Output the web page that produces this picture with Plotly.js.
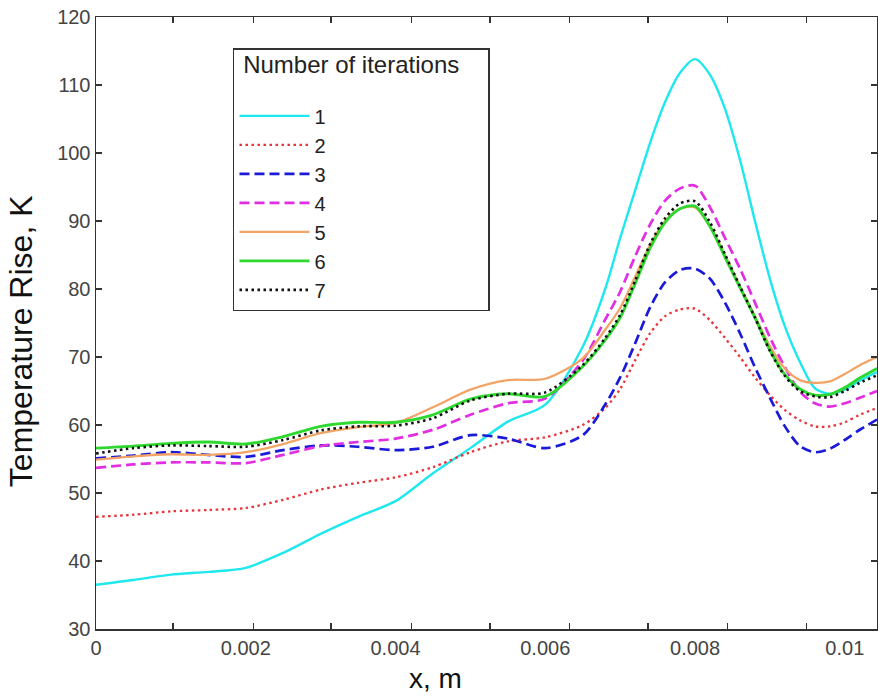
<!DOCTYPE html>
<html>
<head>
<meta charset="utf-8">
<script src="https://cdn.plot.ly/plotly-3.0.1.min.js"></script>
<style>html,body{margin:0;padding:0;background:#fff;}#chart{width:878px;height:696px;}</style>
</head>
<body>
<div id="chart"></div>
<script>
// x positions (m)
const xPos = [0, 0.0005, 0.001, 0.0015, 0.002, 0.0025, 0.003, 0.0035, 0.004, 0.0045, 0.005, 0.0055, 0.006,
  0.0065, 0.0068, 0.007, 0.0072, 0.0074, 0.0076, 0.0078, 0.008, 0.0082, 0.0084, 0.0086, 0.0088, 0.009,
  0.0092, 0.0094, 0.0096, 0.0098, 0.01, 0.0102, 0.01043];

// Temperature rise (K) per number of iterations
const iter1 = [36.5, 37.2, 38.0, 38.4, 39.0, 41.2, 44.0, 46.5, 48.8, 52.9, 56.6, 60.5, 63.0,
  71.5, 80.0, 87.5, 94.5, 101.5, 107.5, 111.8, 113.8, 111.5, 106.5, 99.0, 90.0, 81.5,
  74.5, 69.3, 65.4, 64.6, 65.2, 66.5, 67.8];
const iter2 = [46.5, 46.8, 47.3, 47.5, 47.8, 49.0, 50.5, 51.5, 52.3, 53.8, 56.0, 57.6, 58.2,
  60.0, 62.5, 65.3, 69.5, 73.5, 76.0, 77.0, 77.1, 75.4, 72.8, 70.0, 67.0, 64.4,
  62.2, 60.7, 59.8, 59.8, 60.4, 61.5, 62.5];
const iter3 = [55.1, 55.5, 56.0, 55.6, 55.3, 56.3, 57.0, 56.8, 56.3, 56.8, 58.5, 58.0, 56.6,
  58.5, 63.0, 67.0, 72.0, 77.3, 81.0, 82.8, 83.0, 81.5, 78.0, 73.5, 68.5, 64.0,
  59.8, 56.9, 56.0, 56.5, 57.8, 59.3, 60.8];
const iter4 = [53.7, 54.2, 54.5, 54.5, 54.4, 55.6, 56.9, 57.5, 58.0, 59.3, 61.5, 63.2, 63.9,
  69.5, 75.5, 79.6, 84.8, 89.5, 93.0, 94.8, 95.2, 92.0, 87.5, 83.0, 78.0, 72.9,
  68.5, 64.9, 63.2, 62.7, 63.2, 64.0, 65.0];
const iter5 = [54.9, 55.4, 55.7, 55.6, 56.0, 57.2, 58.8, 59.7, 60.3, 62.6, 65.2, 66.6, 66.8,
  69.8, 74.0, 77.2, 81.8, 86.5, 90.0, 91.8, 92.0, 89.2, 85.0, 80.4, 76.0, 71.6,
  68.3, 66.6, 66.2, 66.4, 67.5, 68.8, 70.0];
const iter6 = [56.6, 56.9, 57.3, 57.5, 57.2, 58.3, 59.8, 60.4, 60.4, 61.5, 63.8, 64.6, 64.2,
  68.6, 72.5, 75.8, 80.8, 86.0, 89.8, 91.8, 92.2, 89.2, 84.7, 80.2, 75.8, 71.0,
  67.4, 65.3, 64.4, 64.5, 65.5, 66.9, 68.3];
const iter7 = [55.8, 56.6, 57.0, 56.9, 56.8, 57.8, 59.2, 59.8, 59.9, 61.0, 63.6, 64.6, 64.8,
  68.8, 72.8, 76.2, 81.2, 86.6, 90.4, 92.6, 92.9, 89.8, 85.1, 80.4, 75.8, 70.9,
  67.2, 65.0, 64.2, 64.1, 65.0, 66.2, 67.3];

const seriesNames = ['1', '2', '3', '4', '5', '6', '7'];
const seriesValues = [iter1, iter2, iter3, iter4, iter5, iter6, iter7];

// axis ticks
const xTickVals = [0, 0.002, 0.004, 0.006, 0.008, 0.01];
const xTickText = ['0', '0.002', '0.004', '0.006', '0.008', '0.01'];
const xTickMarks = [0.00103, 0.0021, 0.00314, 0.00421, 0.00526, 0.00632, 0.00737, 0.00843, 0.00949];
const yTickVals = [30, 40, 50, 60, 70, 80, 90, 100, 110, 120];

const styles = [
  {color: '#1ee8ee', width: 2.4, dash: 'solid'},
  {color: '#e8343a', width: 2.3, dash: '2.5px,3.5px'},
  {color: '#1a1ad8', width: 2.7, dash: '10px,5px'},
  {color: '#e22ee2', width: 2.7, dash: '10px,5px'},
  {color: '#f2a466', width: 2.3, dash: 'solid'},
  {color: '#2ed82e', width: 2.9, dash: 'solid'},
  {color: '#111111', width: 2.6, dash: '2.5px,3.5px'}
];

const traces = seriesValues.map((vals, i) => ({
  x: xPos, y: vals, name: seriesNames[i], type: 'scatter', mode: 'lines',
  line: {color: styles[i].color, width: styles[i].width, dash: styles[i].dash, shape: 'spline', smoothing: 0.8}
}));

const FONT = 'Liberation Sans, Arial, sans-serif';
const axisCommon = {
  showline: true, linecolor: '#333', linewidth: 1.5, mirror: 'ticks',
  showgrid: false, zeroline: false, ticks: 'inside', ticklen: 6, tickwidth: 1.3, tickcolor: '#333',
  tickfont: {family: FONT, size: 20, color: '#444'}
};

const NB = '\u00a0';
const legendTitle = '<span style="font-size:24px">' + NB + 'Number of iterations' + NB.repeat(4) + '</span><br>' + NB;

const layout = {
  width: 878, height: 696,
  margin: {l: 96, r: 1, t: 17, b: 67, pad: 0},
  paper_bgcolor: '#fff', plot_bgcolor: '#fff',
  font: {family: FONT},
  showlegend: true,
  xaxis: Object.assign({}, axisCommon, {
    range: [0, 0.01043], tickmode: 'array', tickvals: xTickVals, ticktext: xTickText,
    ticks: '',
    minor: {tickmode: 'array', tickvals: xTickMarks, ticks: 'inside', ticklen: 6, tickwidth: 1.3, tickcolor: '#333', showgrid: false}
  }),
  yaxis: Object.assign({}, axisCommon, {
    range: [30, 120], tickmode: 'array', tickvals: yTickVals
  }),
  legend: {
    x: 0.1754, y: 0.9493, xanchor: 'left', yanchor: 'top',
    bgcolor: '#fff', bordercolor: '#333', borderwidth: 1.5,
    font: {family: FONT, size: 20, color: '#222'},
    title: {text: legendTitle, font: {family: FONT, size: 18, color: '#222'}},
    itemwidth: 70
  },
  annotations: [
    {text: 'x, m', xref: 'paper', yref: 'paper', x: 0.435, y: -0.081, xanchor: 'center', yanchor: 'middle',
     showarrow: false, font: {family: FONT, size: 28, color: '#111'}},
    {text: 'Temperature Rise, K', xref: 'paper', yref: 'paper', x: -0.095, y: 0.47, textangle: -90,
     xanchor: 'center', yanchor: 'middle', showarrow: false, font: {family: FONT, size: 32, color: '#111'}}
  ]
};

Plotly.newPlot('chart', traces, layout, {displayModeBar: false, staticPlot: true});
</script>
</body>
</html>
